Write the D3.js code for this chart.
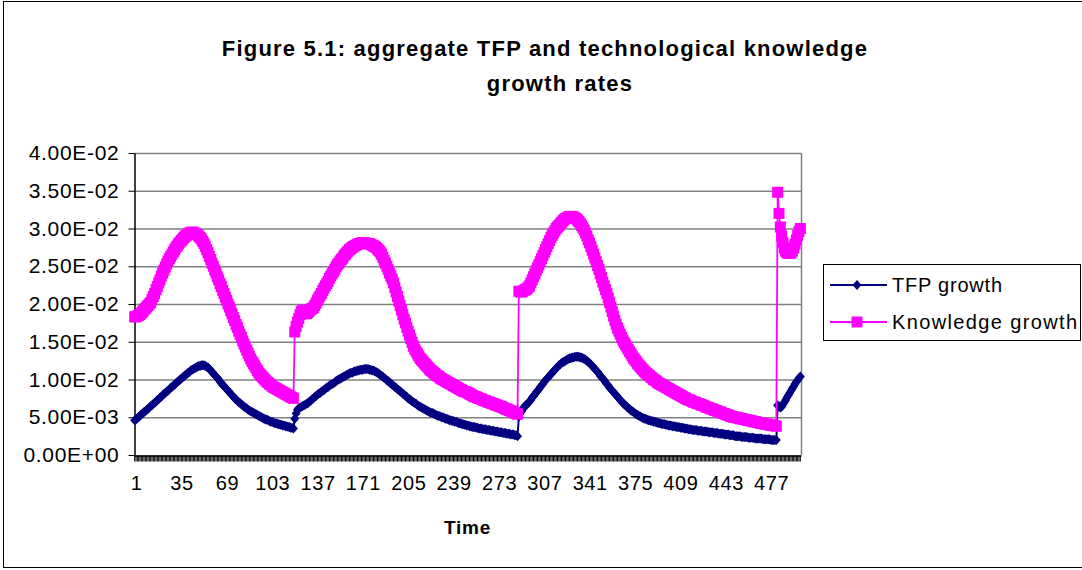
<!DOCTYPE html>
<html>
<head>
<meta charset="utf-8">
<script src="https://cdn.jsdelivr.net/npm/d3@7"></script>
<style>
  body { margin: 0; background: #fff; }
  svg { display: block; font-family: "Liberation Sans", Arial, sans-serif; }
</style>
</head>
<body>
<svg width="1082" height="570"></svg>
<script>
// values, in units of 1e-4
var unit = 1e-4;

// TFP growth, one array per regime (periods 1-120, 121-288, 289-482, 483-500)
var tfp1 = [46,47,49,50,52,54,55,57,58,60, 61,63,65,66,68,69,71,73,74,76,
  77,79,81,82,84,85,87,89,90,92, 93,95,97,98,100,101,103,104,106,107,
  109,110,112,113,114,115,116,117,118,118, 119,119,119,118,117,116,114,112,110,108,
  106,104,102,100,97,95,93,91,89,87, 85,83,81,79,77,75,74,72,70,69,
  67,66,64,63,62,60,59,58,57,56, 55,54,53,52,51,50,49,48,47,47,
  46,45,44,44,43,42,42,41,41,40, 40,39,39,38,38,37,37,36,36,35];
var tfp2 = [48,55,60,62,63,64,65,66,67,68,
  69,71,72,74,75,77,78,80,81,82,84,85,86,88,89,90,92,93,94,95,
  96,98,99,100,101,102,103,104,105,106,107,108,109,109,110,
  111,111,112,112,113,113,113,114,114,114,114,113,113,112,112,
  111,110,109,108,106,105,104,102,101,99,
  98,96,95,93,92,90,89,87,86,84,83,81,80,78,77,
  75,74,73,71,70,69,68,66,65,64,63,62,61,60,59,
  58,57,56,56,55,54,53,52,52,51,50,50,49,48,48,47,46,46,
  45,45,44,44,43,42,42,41,41,40,40,39,39,38,38,37,37,37,36,36,35,35,
  35,34,34,34,33,33,33,32,32,32,31,31,31,30,30,30,29,29,29,28,28,28,27,27,27,26,26,25];
var tfp3 = [51,55,58,61,64,66,67,69,71,
  73,76,78,80,83,85,87,90,92,94,97,99,101,103,105,107,109,111,113,115,
  117,119,120,122,123,124,125,126,127,128,128,129,129,130,130,130,130,129,129,
  128,127,126,125,123,122,120,118,116,114,112,110,108,105,
  103,101,99,96,94,92,89,87,85,83,81,79,77,75,73,71,69,67,66,64,
  62,61,59,58,57,55,54,53,52,51,
  50,49,48,48,47,46,46,45,45,44,44,43,43,42,42,41,41,41,40,40,39,39,
  39,38,38,38,37,37,37,36,36,36,35,35,35,34,34,34,33,33,33,33,
  32,32,32,32,31,31,31,31,30,30,30,30,29,29,29,29,28,28,
  28,28,27,27,27,27,26,26,26,26,25,25,25,25,25,24,24,24,24,24,
  23,23,23,23,23,22,22,22,22,22,22,21,21,21,21,21,21,20,20,20,20,20];
var tfp4 = [66,64,63,64,67,70,73,76,79,82,85,88,91,94,97,99,102,104];

// technological knowledge growth, same regimes
var know1 = [183,183,184,185,186,188,190,192,194,196, 198,200,202,206,210,214,219,223,228,232,
  237,241,245,249,253,257,260,263,266,269, 272,275,277,280,282,284,286,288,290,291,
  293,294,295,295,295,294,293,292,290,288, 286,283,280,276,272,268,263,259,254,250,
  245,241,236,232,227,223,218,214,209,205, 200,196,191,187,182,178,173,169,164,160,
  156,151,147,143,139,135,131,127,124,121, 118,115,112,109,107,105,103,101,99,97,
  96,94,93,91,90,89,88,87,86,85, 84,83,82,81,80,79,78,77,76,75];
var know2 = [163,170,176,181,186,190,192,190,188,187,189,191,193,194,195,
  198,201,205,208,211,214,218,221,224,227,230,234,237,240,243,
  246,249,252,254,257,259,261,264,266,268, 270,272,273,275,276,277,278,279,280,280,
  281,281,281,281,280,280, 280,279,278,277,276,275,273,271,269,
  266,262,258,254,250,246,241,237,233,228, 222,216,210,204,198,192,186,180,
  175,169,164,159,154,149,144, 140,137,134,131,128,126,124,122,120,118,116,
  114,112,111,109,108,106,105,104,102,101,100,99,98,97,96,95,94,
  93,92,91,90,89,88,87,86,85,84,84,83,82,81,80,79,78,
  77,77,76,75,75,74,73,72,72,71,70,70,69,68,68,
  67,66,66,65,64,64,63,62,61,61,60,59,58,58,57,56,55,54];
var know3 = [217,216,216,217,218,219,220,222,224,
  228,232,236,240,244,248,252,256,260,264,268,272,276,280,284,288,291,294,297,300,302,
  304,306,308,310,312,313,314,315,316,316,316,315,314,313,311,309,307,
  304,301,298,294,290, 285,281,276,271,266,261,256,251, 246,240,235,229,224,219,214,
  208,202,196,190,184,178,173,168, 164,160,156,152,149,146,143,
  140,137,134,131,128,126,124,121,119,117, 115,113,111,109,108,106,105,103,102,100,99,98,96,95,94,
  93,92,91,90,89,88,87,86,85,84,83,82,81,80,79,78,77,76,75,
  74,73,73,72,71,70,70,69,68,68,67,66,66,65,64,
  63,63,62,61,61,60,59,59,58,57,57,56,55,55,54,53,53,52,
  51,51,50,50,50,49,49,48,48,48,47,47,46,46,46,45,45,44,44,44,
  43,43,42,42,42,41,41,41,40,40,40,39,39,39,38];
var know4 = [348,320,302,290,281,274,270,268,267,267,268,270,274,279,285,291,296,300];

var tfp = tfp1.concat(tfp2, tfp3, tfp4).map(function(v) { return v * unit; });
var know = know1.concat(know2, know3, know4).map(function(v) { return v * unit; });
var periods = d3.range(1, tfp.length + 1);

var xLabels = ["1","35","69","103","137","171","205","239","273","307","341","375","409","443","477"];
var yTicks = [0, 0.005, 0.01, 0.015, 0.02, 0.025, 0.03, 0.035, 0.04];
var seriesNames = ["TFP growth", "Knowledge growth"];

var svg = d3.select("svg");
// plot area
var plotL = 134, plotR = 801, plotT = 153, plotB = 455;

// outer chart frame
svg.append("rect")
  .attr("x", 3.5).attr("y", 1.5).attr("width", 1090).attr("height", 566)
  .attr("fill", "none").attr("stroke", "#000").attr("stroke-width", 1);

var x = d3.scaleBand().domain(periods).range([plotL, plotR]);
var y = d3.scaleLinear().domain([0, 0.04]).range([plotB, plotT]);
var cx = function(i) { return x(periods[i]) + x.bandwidth() / 2; };

// gridlines
svg.append("g").selectAll("line")
  .data(yTicks.slice(1))
  .join("line")
  .attr("x1", plotL).attr("x2", plotR)
  .attr("y1", d => y(d) + 0.5).attr("y2", d => y(d) + 0.5)
  .attr("stroke", "#808080").attr("stroke-width", 1.3);

svg.append("line")
  .attr("x1", plotR + 0.5).attr("x2", plotR + 0.5)
  .attr("y1", plotT).attr("y2", plotB)
  .attr("stroke", "#808080").attr("stroke-width", 1.5);

// scientific tick labels, Excel style
function sci(d) {
  var s = d.toExponential(2).toUpperCase();
  return s.replace(/E([+-])(\d)$/, function(m, sign, dig) { return "E" + sign + "0" + dig; });
}

var yAxis = svg.append("g")
  .attr("transform", "translate(" + (plotL + 0.5) + ",0)")
  .call(d3.axisLeft(y).tickValues(yTicks).tickSize(6).tickSizeOuter(0).tickPadding(9).tickFormat(sci));

var labelSet = new Set(xLabels);
var xAxis = svg.append("g")
  .attr("transform", "translate(0," + (plotB + 0.5) + ")")
  .call(d3.axisBottom(x).tickValues(periods).tickSize(6).tickSizeOuter(0).tickPadding(14)
    .tickFormat(d => labelSet.has(String(d)) ? d : ""));

[yAxis, xAxis].forEach(function(a) {
  a.select(".domain").attr("stroke", "#000").attr("stroke-width", 1.5);
  a.selectAll(".tick line").attr("stroke", "#000");
  a.selectAll(".tick text").attr("fill", "#000");
});
yAxis.selectAll(".tick text").attr("font-size", 21).attr("letter-spacing", 0.7);
xAxis.selectAll(".tick text").attr("font-size", 20).attr("letter-spacing", 0.6).attr("dx", 2);

// series
var line = d3.line().x((d, i) => cx(i)).y(d => y(d));
var diamond = "M0,-5L4.5,0L0,5L-4.5,0Z";

svg.append("path").datum(tfp)
  .attr("d", line).attr("fill", "none").attr("stroke", "#000080").attr("stroke-width", 2);

svg.append("g").selectAll("path")
  .data(tfp)
  .join("path")
  .attr("transform", (d, i) => "translate(" + cx(i) + "," + y(d) + ")")
  .attr("d", diamond)
  .attr("fill", "#000080");

svg.append("path").datum(know)
  .attr("d", line).attr("fill", "none").attr("stroke", "#FF00FF").attr("stroke-width", 1.8);

svg.append("g").selectAll("rect")
  .data(know)
  .join("rect")
  .attr("x", (d, i) => cx(i) - 5.5).attr("y", d => y(d) - 5.5)
  .attr("width", 11).attr("height", 11)
  .attr("fill", "#FF00FF");

// title
var title = svg.append("text")
  .attr("text-anchor", "middle").attr("font-weight", "bold").attr("font-size", 22)
  .attr("letter-spacing", 1.2).attr("fill", "#000");
title.append("tspan").attr("x", 545).attr("y", 56).text("Figure 5.1: aggregate TFP and technological knowledge");
title.append("tspan").attr("x", 560).attr("y", 91).text("growth rates");

svg.append("text")
  .attr("x", (plotL + plotR) / 2).attr("y", 534)
  .attr("text-anchor", "middle").attr("font-weight", "bold").attr("font-size", 19)
  .attr("letter-spacing", 0.8)
  .text("Time");

// legend
var legend = svg.append("g");
legend.append("rect")
  .attr("x", 823.5).attr("y", 264.5).attr("width", 257).attr("height", 76)
  .attr("fill", "#fff").attr("stroke", "#000").attr("stroke-width", 1);

var rows = legend.selectAll("g.row")
  .data(seriesNames)
  .join("g")
  .attr("class", "row")
  .attr("transform", (d, i) => "translate(0," + (285 + i * 37) + ")");

rows.append("line")
  .attr("x1", 830).attr("x2", 887)
  .attr("stroke", (d, i) => i === 0 ? "#000080" : "#FF00FF")
  .attr("stroke-width", 2);

rows.filter((d, i) => i === 0).append("path")
  .attr("transform", "translate(857,0)")
  .attr("d", diamond)
  .attr("fill", "#000080");

rows.filter((d, i) => i === 1).append("rect")
  .attr("x", 851.5).attr("y", -5.5).attr("width", 11).attr("height", 11)
  .attr("fill", "#FF00FF");

rows.append("text")
  .attr("x", 892).attr("y", 7)
  .attr("font-size", 20)
  .attr("textLength", (d, i) => i === 0 ? 110 : 185)
  .attr("lengthAdjust", "spacing")
  .text(d => d);
</script>
</body>
</html>
